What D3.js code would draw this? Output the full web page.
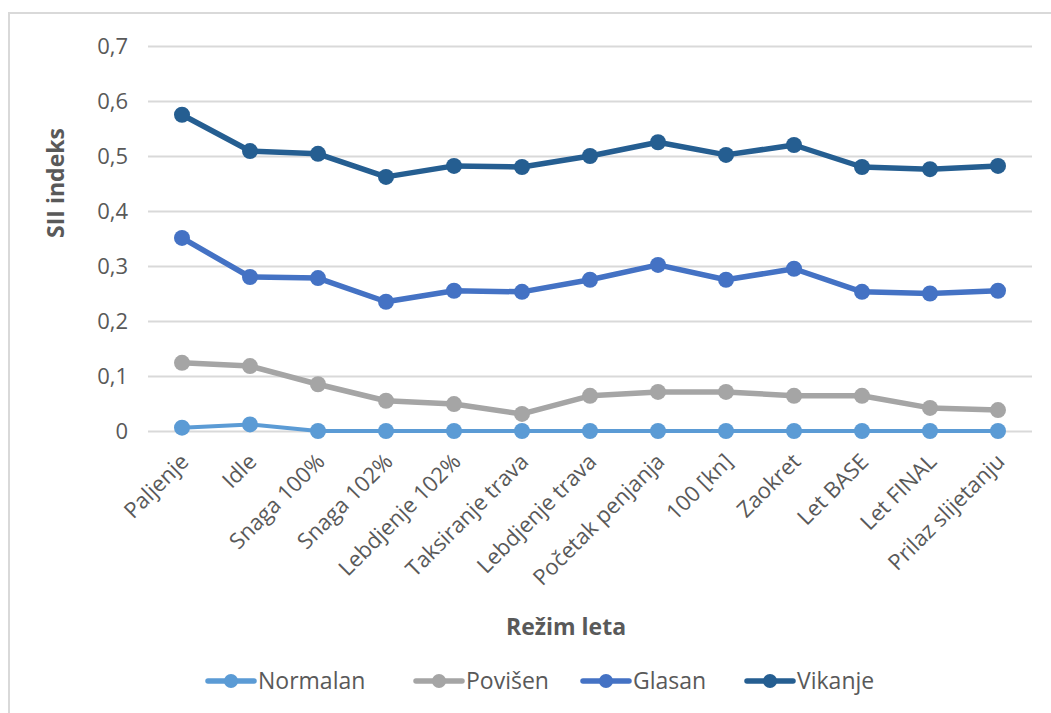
<!DOCTYPE html>
<html><head><meta charset="utf-8">
<script src="https://cdn.jsdelivr.net/npm/d3@7"></script>
<style>body{margin:0;background:#fff;} text{font-family:"Open Sans","Noto Sans",sans-serif;}</style>
</head><body>
<svg id="c" width="1051" height="713"></svg>
<script>
const categories = ["Paljenje","Idle","Snaga 100%","Snaga 102%","Lebdjenje 102%","Taksiranje trava","Lebdjenje trava","Početak penjanja","100 [kn]","Zaokret","Let BASE","Let FINAL","Prilaz slijetanju"];
const normalan = [0.006,0.012,0,0,0,0,0,0,0,0,0,0,0];
const povisen  = [0.124,0.118,0.085,0.055,0.049,0.031,0.064,0.071,0.071,0.064,0.064,0.042,0.038];
const glasan   = [0.351,0.280,0.278,0.235,0.255,0.253,0.275,0.302,0.275,0.295,0.253,0.250,0.255];
const vikanje  = [0.575,0.509,0.504,0.462,0.482,0.480,0.500,0.525,0.502,0.520,0.480,0.476,0.482];
const yTicks = [0,0.1,0.2,0.3,0.4,0.5,0.6,0.7];
const seriesNames = ["Normalan","Povišen","Glasan","Vikanje"];
const seriesData = [normalan, povisen, glasan, vikanje];
const colors = ["#5B9BD5","#A5A5A5","#4472C4","#255E91"];

const svg = d3.select("#c");
svg.append("rect").attr("x",9).attr("y",13).attr("width",1060).attr("height",720)
  .attr("fill","none").attr("stroke","#d9d9d9").attr("stroke-width",2);

const L=148,R=1032,T=46,B=431;
const x = d3.scaleBand().domain(categories).range([L,R]);
const y = d3.scaleLinear().domain([0,0.7]).range([B,T]);
const fmt = v => v===0 ? "0" : d3.format(".1f")(v).replace(".",",");

const ya = svg.append("g").attr("transform",`translate(${L},0)`)
  .call(d3.axisLeft(y).tickValues(yTicks).tickFormat(fmt).tickSize(-(R-L)).tickPadding(20));
ya.select(".domain").remove();
ya.selectAll("line").attr("stroke","#d9d9d9").attr("stroke-width",2);
ya.selectAll("text").attr("fill","#595959").attr("font-size","22px");

const xa = svg.append("g").attr("transform",`translate(0,${B})`)
  .call(d3.axisBottom(x).tickSize(0).tickPadding(0));
xa.select(".domain").remove();
xa.selectAll("text").attr("fill","#595959").attr("font-size","22px")
  .attr("text-anchor","end").attr("dy",0).attr("y",0)
  .attr("transform","translate(8,32) rotate(-45)");

svg.append("text").attr("transform","translate(64,183) rotate(-90)")
  .attr("text-anchor","middle").attr("font-weight","bold").attr("font-size","23px").attr("fill","#595959").text("SII indeks");
svg.append("text").attr("x",566).attr("y",635).attr("text-anchor","middle")
  .attr("font-weight","bold").attr("font-size","23px").attr("fill","#595959").text("Režim leta");

const line = d3.line().x((d,i)=>x(categories[i])+x.bandwidth()/2).y(d=>y(d));
seriesData.forEach((s,k)=>{
  const g = svg.append("g");
  g.append("path").datum(s).attr("d",line).attr("fill","none").attr("stroke",colors[k])
    .attr("stroke-width",k===0?4:5.5).attr("stroke-linejoin","round");
  g.selectAll("circle").data(s).join("circle")
    .attr("cx",(d,i)=>x(categories[i])+x.bandwidth()/2).attr("cy",d=>y(d)).attr("r",8).attr("fill",colors[k]);
});

const legTextX = [258,466,633,797];
seriesNames.forEach((n,k)=>{
  const g = svg.append("g").attr("transform",`translate(${legTextX[k]},681)`);
  g.append("line").attr("x1",-50).attr("x2",-4).attr("stroke",colors[k]).attr("stroke-width",5.5).attr("stroke-linecap","round");
  g.append("circle").attr("cx",-27).attr("r",7).attr("fill",colors[k]);
  g.append("text").attr("x",0).attr("y",8).attr("font-size","23px").attr("fill","#595959").text(n);
});
</script>
</body></html>
